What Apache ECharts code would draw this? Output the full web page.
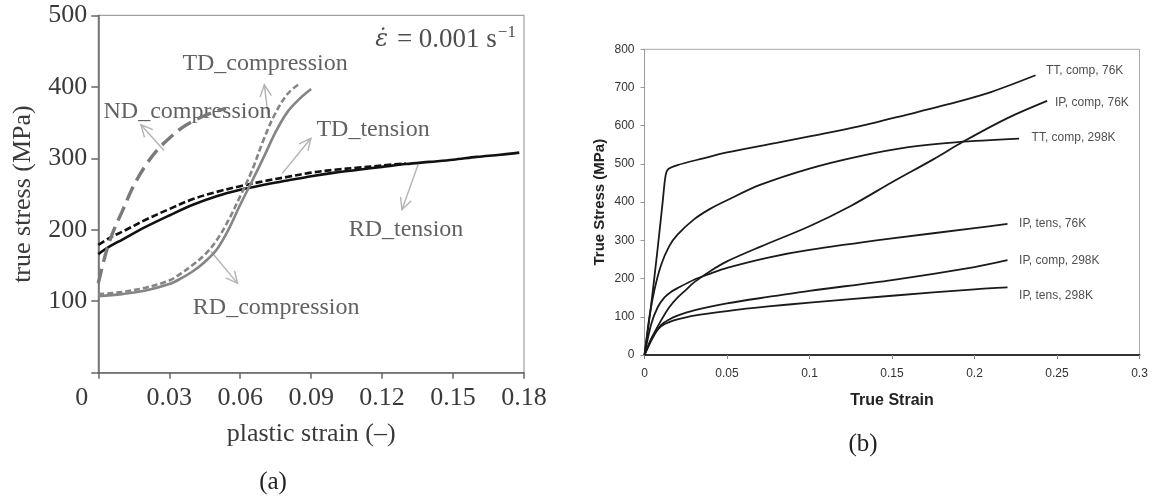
<!DOCTYPE html>
<html><head><meta charset="utf-8">
<script src="https://cdn.jsdelivr.net/npm/echarts@6/dist/echarts.min.js"></script>
<style>html,body{margin:0;padding:0;background:#fff}#c{width:1152px;height:500px}</style>
</head><body><div id="c"></div>
<script>
// ---------- Panel (a) ----------
const aTicksX = ['0', '0.03', '0.06', '0.09', '0.12', '0.15', '0.18'];
const aTicksY = ['', '100', '200', '300', '400', '500'];

const rdTensionX = [0, 0.005, 0.01, 0.02, 0.03, 0.04, 0.05, 0.06, 0.07, 0.08, 0.09, 0.1, 0.11, 0.12, 0.13, 0.14, 0.15, 0.16, 0.17, 0.178];
const rdTensionY = [166, 177, 186, 204, 220, 235, 247, 256, 263, 269, 275, 280, 284, 288, 292, 295, 298, 302, 305, 308];

const tdTensionX = [0, 0.005, 0.01, 0.02, 0.03, 0.04, 0.05, 0.06, 0.07, 0.08, 0.09, 0.1, 0.11, 0.12, 0.13];
const tdTensionY = [179, 189, 197, 214, 229, 243, 253, 261, 268, 274, 280, 284, 287, 290, 293];

const rdCompX = [0, 0.01, 0.02, 0.03, 0.035, 0.04, 0.045, 0.05, 0.055, 0.06, 0.065, 0.07, 0.075, 0.08, 0.085, 0.09];
const rdCompY = [107, 110, 115, 124, 132, 142, 155, 172, 200, 235, 268, 302, 337, 365, 383, 397];

const tdCompX = [0, 0.01, 0.02, 0.03, 0.035, 0.04, 0.045, 0.05, 0.055, 0.06, 0.065, 0.07, 0.075, 0.08, 0.0845];
const tdCompY = [110, 113, 119, 129, 139, 151, 165, 185, 213, 247, 283, 327, 364, 390, 403];

const ndCompX = [0, 0.003, 0.006, 0.01, 0.015, 0.02, 0.025, 0.03, 0.035, 0.04, 0.045, 0.05, 0.054];
const ndCompY = [125, 165, 195, 225, 262, 290, 312, 328, 342, 352, 360, 366, 370];

const aLabelNames = ['TD_compression', 'ND_compression', 'TD_tension', 'RD_tension', 'RD_compression'];
const aLabelX = [0.0705, 0.0377, 0.1162, 0.1301, 0.0752];
const aLabelY = [433, 365, 340, 200, 91];

// arrows: tail (x1,y1) -> head (x2,y2)
const aArrowX1 = [0.0278, 0.0718, 0.0778, 0.1352, 0.0476];
const aArrowY1 = [311, 360, 279, 291, 170];
const aArrowX2 = [0.0180, 0.0702, 0.0899, 0.1284, 0.0589];
const aArrowY2 = [347, 403, 328, 228, 125];

// ---------- Panel (b) ----------
const bTicksX = ['0', '0.05', '0.1', '0.15', '0.2', '0.25', '0.3'];
const bTicksY = ['0', '100', '200', '300', '400', '500', '600', '700', '800'];

const ttComp76X = [0, 0.004, 0.008, 0.011, 0.0128, 0.0145, 0.02, 0.035, 0.05, 0.08, 0.1, 0.13, 0.16, 0.19, 0.21, 0.237];
const ttComp76Y = [0, 130, 280, 400, 470, 487, 497, 514, 530, 555, 572, 598, 630, 663, 688, 732];

const ipComp76X = [0, 0.005, 0.01, 0.015, 0.02, 0.025, 0.03, 0.04, 0.05, 0.07, 0.1, 0.125, 0.15, 0.175, 0.193, 0.22, 0.244];
const ipComp76Y = [0, 50, 90, 125, 150, 170, 190, 220, 245, 283, 337, 390, 452, 512, 558, 620, 665];

const ttComp298X = [0, 0.003, 0.006, 0.01, 0.015, 0.02, 0.03, 0.04, 0.05, 0.07, 0.1, 0.13, 0.16, 0.19, 0.227];
const ttComp298Y = [0, 100, 170, 235, 285, 315, 355, 383, 405, 445, 488, 520, 544, 557, 566];

const ipTens76X = [0, 0.004, 0.008, 0.012, 0.016, 0.02, 0.03, 0.04, 0.05, 0.075, 0.1, 0.15, 0.2, 0.22];
const ipTens76Y = [0, 80, 125, 150, 165, 175, 197, 213, 228, 255, 275, 305, 332, 343];

const ipComp298X = [0, 0.005, 0.01, 0.015, 0.02, 0.03, 0.05, 0.075, 0.1, 0.15, 0.2, 0.22];
const ipComp298Y = [0, 45, 78, 93, 103, 117, 135, 152, 168, 196, 230, 248];

const ipTens298X = [0, 0.005, 0.01, 0.015, 0.02, 0.03, 0.05, 0.075, 0.1, 0.15, 0.2, 0.22];
const ipTens298Y = [0, 50, 75, 86, 93, 103, 115, 127, 137, 155, 172, 177];

const bLabelNames = ['TT, comp, 76K', 'IP, comp, 76K', 'TT, comp, 298K', 'IP, tens, 76K', 'IP, comp, 298K', 'IP, tens, 298K'];
const bLabelX = [0.2433, 0.2488, 0.2346, 0.227, 0.227, 0.227];
const bLabelY = [744, 660, 568, 343, 247, 154];

// ---------- build ----------
function pairs(xs, ys) { return xs.map((x, i) => [x, ys[i]]); }
const SERIF = 'Liberation Serif';
const SANS = 'Liberation Sans';

function lineA(xs, ys, color, width, type) {
  return { type: 'line', xAxisIndex: 0, yAxisIndex: 0, data: pairs(xs, ys), symbol: 'none',
    smooth: 0.35, silent: true,
    lineStyle: { color: color, width: width, type: type || 'solid', cap: 'butt' } };
}
function lineB(xs, ys) {
  return { type: 'line', xAxisIndex: 1, yAxisIndex: 1, data: pairs(xs, ys), symbol: 'none',
    smooth: 0.3, silent: true,
    lineStyle: { color: '#1a1a1a', width: 1.8 } };
}

const chart = echarts.init(document.getElementById('c'), null, { renderer: 'canvas' });
const option = {
  backgroundColor: '#fff',
  animation: false,
  grid: [
    { left: 98.3, top: 15.4, width: 425.7, height: 357.3, show: true, borderColor: '#a0a0a0', borderWidth: 1.2, backgroundColor: 'transparent' },
    { left: 644.5, top: 49.3, width: 495, height: 305.7, show: true, borderColor: '#a8a8a8', borderWidth: 1, backgroundColor: 'transparent' }
  ],
  xAxis: [
    { gridIndex: 0, type: 'value', min: 0, max: 0.18, interval: 0.03,
      name: 'plastic strain (–)', nameLocation: 'middle', nameGap: 48,
      nameTextStyle: { fontFamily: SERIF, fontSize: 26, color: '#3a3a3a' },
      axisLine: { lineStyle: { color: '#666', width: 1.5 } },
      axisTick: { show: true, inside: false, length: 6, lineStyle: { color: '#666', width: 1.5 } },
      splitLine: { show: false },
      axisLabel: { margin: 12, fontFamily: SERIF, fontSize: 26, color: '#3a3a3a',
        formatter: v => { const i = Math.round(v / 0.03); return i === 0 ? '{z|' + aTicksX[0] + '}' : aTicksX[i]; },
        rich: { z: { fontFamily: SERIF, fontSize: 26, color: '#3a3a3a', padding: [0, 33, 0, 0] } } } },
    { gridIndex: 1, type: 'value', min: 0, max: 0.3, interval: 0.05,
      name: 'True Strain', nameLocation: 'middle', nameGap: 38,
      nameTextStyle: { fontFamily: SANS, fontSize: 16, fontWeight: 'bold', color: '#222' },
      axisLine: { lineStyle: { color: '#333', width: 2 } },
      axisTick: { show: true, inside: false, length: 4, lineStyle: { color: '#888', width: 1 } },
      splitLine: { show: false },
      axisLabel: { margin: 13, fontFamily: SANS, fontSize: 12, color: '#333',
        formatter: v => bTicksX[Math.round(v / 0.05)] } }
  ],
  yAxis: [
    { gridIndex: 0, type: 'value', min: 0, max: 500, interval: 100,
      name: 'true stress (MPa)', nameLocation: 'middle', nameGap: 62, nameRotate: 90,
      nameTextStyle: { fontFamily: SERIF, fontSize: 26, color: '#3a3a3a' },
      axisLine: { show: true, lineStyle: { color: '#666', width: 1.5 } },
      axisTick: { show: true, inside: false, length: 7, lineStyle: { color: '#666', width: 1.5 } },
      splitLine: { show: false },
      axisLabel: { margin: 11, fontFamily: SERIF, fontSize: 26, color: '#3a3a3a',
        formatter: v => aTicksY[Math.round(v / 100)] } },
    { gridIndex: 1, type: 'value', min: 0, max: 800, interval: 100,
      name: 'True Stress (MPa)', nameLocation: 'middle', nameGap: 37, nameRotate: 90,
      nameTextStyle: { fontFamily: SANS, fontSize: 15, fontWeight: 'bold', color: '#222' },
      axisLine: { show: true, lineStyle: { color: '#999', width: 1 } },
      axisTick: { show: true, inside: false, length: 4, lineStyle: { color: '#999', width: 1 } },
      splitLine: { show: false },
      axisLabel: { margin: 10, fontFamily: SANS, fontSize: 12, color: '#333',
        formatter: v => bTicksY[Math.round(v / 100)] } }
  ],
  graphic: [
    { type: 'text', x: 273, y: 482, style: { text: '(a)', font: '25px "Liberation Serif"', fill: '#222', textAlign: 'center', textVerticalAlign: 'middle' } },
    { type: 'text', x: 863, y: 444, style: { text: '(b)', font: '25px "Liberation Serif"', fill: '#222', textAlign: 'center', textVerticalAlign: 'middle' } }
  ],
  series: [
    lineA(rdTensionX, rdTensionY, '#111', 2.6),
    lineA(tdTensionX, tdTensionY, '#111', 2.6, [7, 3]),
    lineA(rdCompX, rdCompY, '#858585', 2.6),
    lineA(tdCompX, tdCompY, '#858585', 2.6, [6, 3]),
    lineA(ndCompX, ndCompY, '#7a7a7a', 3.4, [15, 7]),
    { type: 'custom', xAxisIndex: 0, yAxisIndex: 0, silent: true,
      data: aArrowX1.map((x, i) => [x, aArrowY1[i], aArrowX2[i], aArrowY2[i]]),
      renderItem: (params, api) => {
        const p1 = api.coord([api.value(0), api.value(1)]);
        const p2 = api.coord([api.value(2), api.value(3)]);
        const ang = Math.atan2(p2[1] - p1[1], p2[0] - p1[0]);
        const L = 13, a = 0.45;
        const h1 = [p2[0] - L * Math.cos(ang - a), p2[1] - L * Math.sin(ang - a)];
        const h2 = [p2[0] - L * Math.cos(ang + a), p2[1] - L * Math.sin(ang + a)];
        const st = { stroke: '#b3b3b3', lineWidth: 1.4, fill: null };
        return { type: 'group', children: [
          { type: 'polyline', shape: { points: [p1, p2] }, style: st },
          { type: 'polyline', shape: { points: [h1, p2, h2] }, style: st }
        ] };
      } },
    { type: 'scatter', xAxisIndex: 0, yAxisIndex: 0, symbolSize: 0, silent: true,
      data: aLabelNames.map((n, i) => ({ name: n, value: [aLabelX[i], aLabelY[i]] })),
      label: { show: true, position: 'inside', formatter: p => p.name,
        fontFamily: SERIF, fontSize: 24, color: '#3a3a3a' } },
    { type: 'scatter', xAxisIndex: 0, yAxisIndex: 0, symbolSize: 0, silent: true,
      data: [{ name: 'rate', value: [0.1766, 466] }],
      label: { show: true, position: 'left', distance: 0,
        formatter: '{e|ε̇}{n| = 0.001 s}{s|−1}',
        rich: {
          e: { fontFamily: 'DejaVu Serif', fontStyle: 'italic', fontSize: 24, color: '#222', padding: [0, 2, 0, 0] },
          n: { fontFamily: SERIF, fontSize: 27, color: '#222' },
          s: { fontFamily: SERIF, fontSize: 17, color: '#222', padding: [0, 0, 14, 1] }
        } } },
    lineB(ttComp76X, ttComp76Y),
    lineB(ipComp76X, ipComp76Y),
    lineB(ttComp298X, ttComp298Y),
    lineB(ipTens76X, ipTens76Y),
    lineB(ipComp298X, ipComp298Y),
    lineB(ipTens298X, ipTens298Y),
    { type: 'scatter', xAxisIndex: 1, yAxisIndex: 1, symbolSize: 0, silent: true,
      data: bLabelNames.map((n, i) => ({ name: n, value: [bLabelX[i], bLabelY[i]] })),
      label: { show: true, position: 'right', distance: 0, formatter: p => p.name,
        fontFamily: SANS, fontSize: 12, color: '#222' } }
  ]
};
chart.setOption(option);
</script></body></html>
